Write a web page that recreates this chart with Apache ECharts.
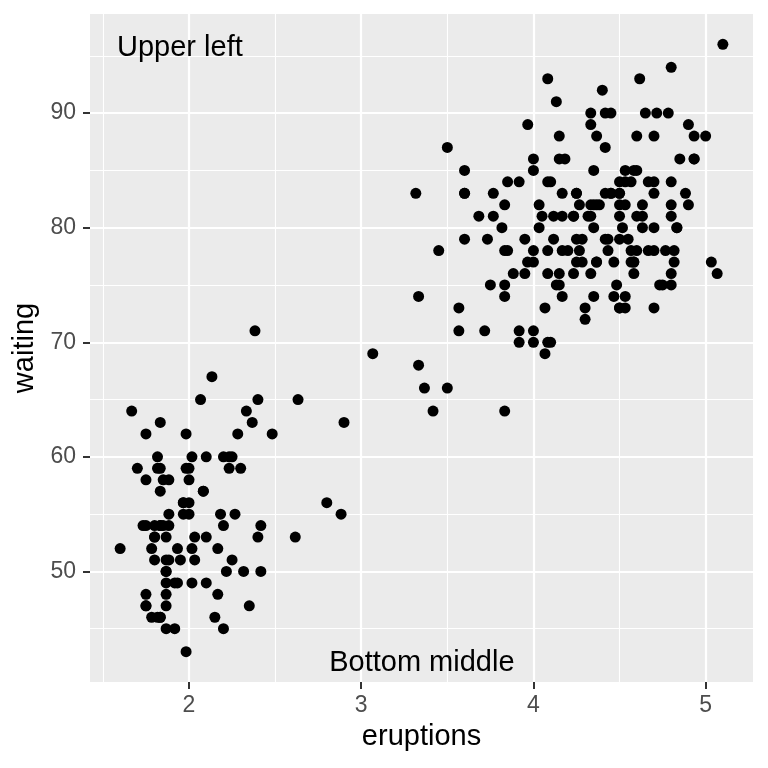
<!DOCTYPE html>
<html><head><meta charset="utf-8">
<script src="https://cdn.jsdelivr.net/npm/echarts@6/dist/echarts.min.js"></script>
<style>html,body{margin:0;padding:0;background:#fff}#c{width:768px;height:768px}</style>
</head><body><div id="c"></div>
<script>
const eruptions = [3.600,1.800,3.333,2.283,4.533,2.883,4.700,3.600,1.950,4.350,1.833,3.917,4.200,1.750,4.700,2.167,1.750,4.800,1.600,4.250,1.800,1.750,3.450,3.067,4.533,3.600,1.967,4.083,3.850,4.433,4.300,4.467,3.367,4.033,3.833,2.017,1.867,4.833,1.833,4.783,4.350,1.883,4.567,1.750,4.533,3.317,3.833,2.100,4.633,2.000,4.800,4.716,1.833,4.833,1.733,4.883,3.717,1.667,4.567,4.317,2.233,4.500,1.750,4.800,1.817,4.400,4.167,4.700,2.067,4.700,4.033,1.967,4.500,4.000,1.983,5.067,2.017,4.567,3.883,3.600,4.133,4.333,4.100,2.633,4.067,4.933,3.950,4.517,2.167,4.000,2.200,4.333,1.867,4.817,1.833,4.300,4.667,3.750,1.867,4.900,2.483,4.367,2.100,4.500,4.050,1.867,4.700,1.783,4.850,3.683,4.733,2.300,4.900,4.417,1.700,4.633,2.317,4.600,1.817,4.417,2.617,4.067,4.250,1.967,4.600,3.767,1.917,4.500,2.267,4.650,1.867,4.167,2.800,4.333,1.833,4.383,1.883,4.933,2.033,3.733,4.233,2.233,4.533,4.817,4.333,1.983,4.633,2.017,5.100,1.800,5.033,4.000,2.400,4.600,3.567,4.000,4.500,4.083,1.800,3.967,2.200,4.150,2.000,3.833,3.500,4.583,2.367,5.000,1.933,4.617,1.917,2.083,4.583,3.333,4.167,4.333,4.500,2.417,4.000,4.167,1.883,4.583,4.250,3.767,2.033,4.433,4.083,1.833,4.417,2.183,4.800,1.833,4.800,4.100,3.966,4.233,3.500,4.366,2.250,4.667,2.100,4.350,4.133,1.867,4.600,1.783,4.367,3.850,1.933,4.500,2.383,4.700,1.867,3.833,3.417,4.233,2.400,4.800,2.000,4.150,1.867,4.267,1.750,4.483,4.000,4.117,4.083,4.267,3.917,4.550,4.083,2.417,4.183,2.217,4.450,1.883,1.850,4.283,3.950,2.333,4.150,2.350,4.933,2.900,4.583,3.833,2.083,4.367,2.133,4.350,2.200,4.450,3.567,4.500,4.150,3.817,3.917,4.450,2.000,4.283,4.767,4.533,1.850,4.250,1.983,2.250,4.750,4.117,2.150,4.417,1.817,4.467];
const waiting = [79,54,74,62,85,55,88,85,51,85,54,84,78,47,83,52,62,84,52,79,51,47,78,69,74,83,55,76,78,79,73,77,66,80,74,52,48,80,59,90,80,58,84,58,73,83,64,53,82,59,75,90,54,80,54,83,71,64,77,81,59,84,48,82,60,92,78,78,65,73,82,56,79,71,62,76,60,78,76,83,75,82,70,65,73,88,76,80,48,86,60,90,50,78,63,72,84,75,51,82,62,88,49,83,81,47,84,52,86,81,75,59,89,79,59,81,50,85,59,87,53,69,77,56,88,81,45,82,55,90,45,83,56,89,46,82,51,86,53,79,81,60,82,77,76,59,80,49,96,53,77,77,65,81,71,70,81,93,53,89,45,86,58,78,66,76,63,88,52,93,49,57,77,68,81,81,73,50,85,74,55,77,83,83,51,78,84,46,83,55,81,57,76,84,77,81,87,77,51,78,60,82,91,53,78,46,77,84,49,83,71,80,49,75,64,76,53,94,55,76,50,82,54,75,78,79,78,78,70,79,70,54,86,50,90,54,54,77,79,64,75,47,86,63,85,82,57,82,67,74,54,83,73,73,88,80,71,83,56,79,78,84,58,83,43,60,75,81,46,90,46,74];
const xTicks = [2,3,4,5];
const yTicks = [50,60,70,80,90];
const xMinor = [1.5,2.5,3.5,4.5];
const yMinor = [45,55,65,75,85,95];
const annotations = [
  {text:'Upper left', x:1.947, y:95.68},
  {text:'Bottom middle', x:3.352, y:41.97}
];

const FONT = 'Liberation Sans, Arial, sans-serif';
const chart = echarts.init(document.getElementById('c'), null, {renderer:'canvas'});
const pts = eruptions.map((e,i)=>[e, waiting[i]]);
const gridLines = [];
xMinor.forEach(v=>gridLines.push({xAxis:v, lineStyle:{width:1.1}}));
yMinor.forEach(v=>gridLines.push({yAxis:v, lineStyle:{width:1.1}}));
xTicks.forEach(v=>gridLines.push({xAxis:v, lineStyle:{width:2.2}}));
yTicks.forEach(v=>gridLines.push({yAxis:v, lineStyle:{width:2.2}}));

const tickStyle = {show:true, length:7, lineStyle:{color:'#333333', width:2}};
const labelStyle = {color:'#4D4D4D', fontSize:23, fontFamily:FONT};
const nameStyle = {color:'#000', fontSize:29, fontFamily:FONT};

chart.setOption({
  animation:false,
  grid:{left:90, right:15, top:14, bottom:86, backgroundColor:'#EBEBEB', show:true, borderWidth:0},
  xAxis:{
    type:'value', min:1.425, max:5.275,
    axisLine:{show:false}, splitLine:{show:false},
    name:'eruptions', nameLocation:'middle', nameGap:40, nameTextStyle:nameStyle,
    axisTick:Object.assign({}, tickStyle, {customValues:xTicks}),
    axisLabel:Object.assign({}, labelStyle, {customValues:xTicks, margin:12})
  },
  yAxis:{
    type:'value', min:40.35, max:98.65,
    axisLine:{show:false}, splitLine:{show:false},
    name:'waiting', nameLocation:'middle', nameGap:47, nameRotate:90, nameTextStyle:nameStyle,
    axisTick:Object.assign({}, tickStyle, {customValues:yTicks}),
    axisLabel:Object.assign({}, labelStyle, {customValues:yTicks, margin:14})
  },
  series:[
    {
      type:'scatter', data:[], silent:true, z:1,
      markLine:{silent:true, z:1, symbol:['none','none'], label:{show:false},
        lineStyle:{color:'#FFFFFF', type:'solid', opacity:1}, emphasis:{disabled:true},
        data:gridLines}
    },
    {
      type:'scatter', data:pts, symbol:'circle', symbolSize:11, z:3,
      itemStyle:{color:'#000000', opacity:1}
    },
    {
      type:'scatter', symbolSize:0, silent:true, z:4,
      itemStyle:{opacity:1},
      data:annotations.map(a=>({value:[a.x,a.y], name:a.text})),
      label:{show:true, position:'inside', formatter:p=>p.name, color:'#000000', opacity:1,
        fontSize:29, fontFamily:FONT}
    }
  ]
});
</script></body></html>
